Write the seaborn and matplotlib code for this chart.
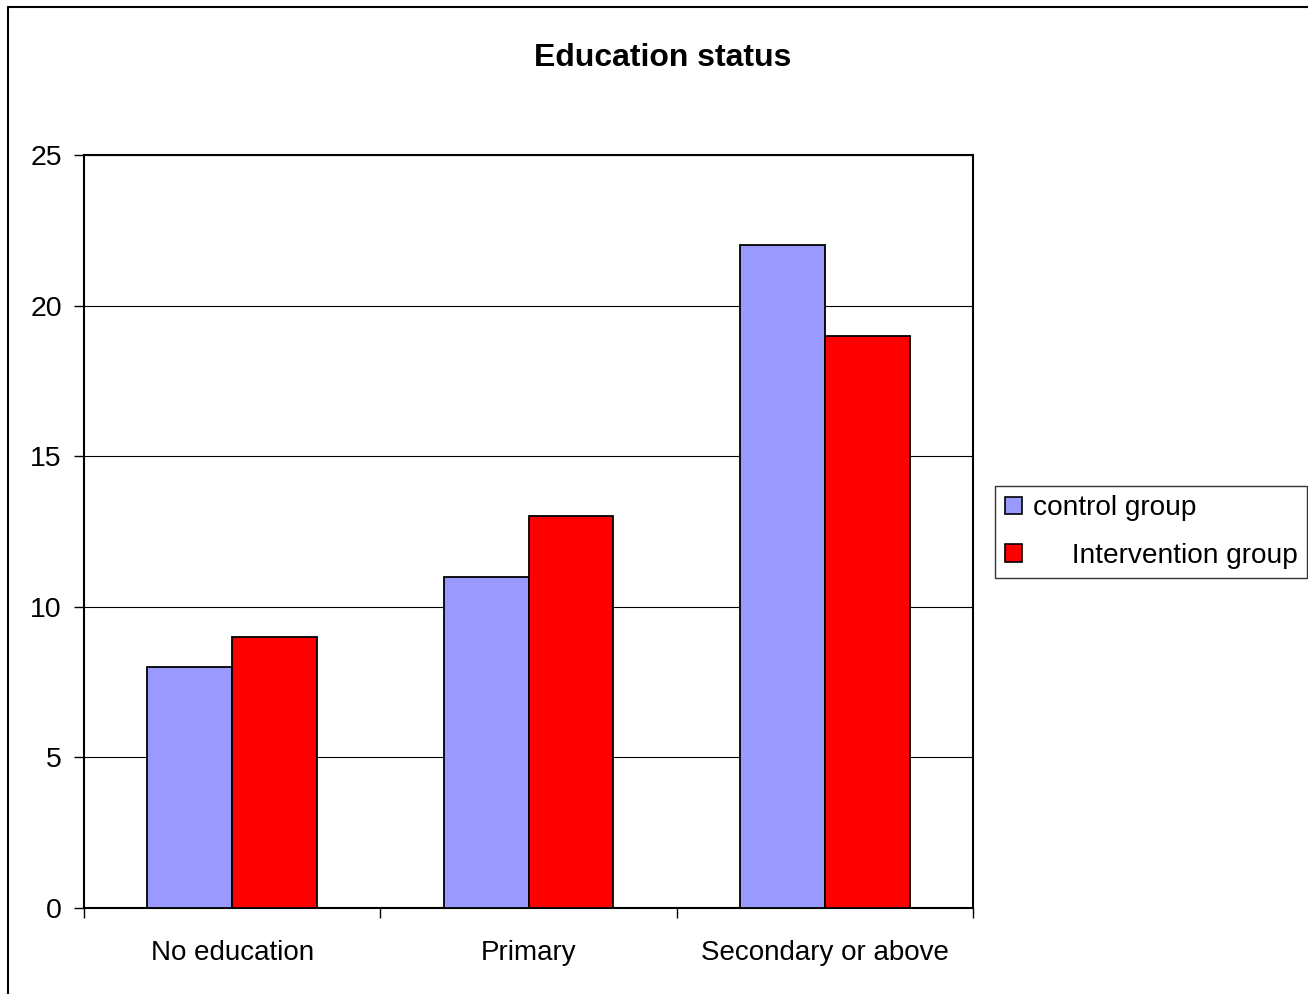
import matplotlib
matplotlib.use("Agg")
import matplotlib.pyplot as plt
import seaborn as sns
import pandas as pd
from matplotlib.lines import Line2D
from matplotlib.ticker import FixedLocator

categories = ["No education", "Primary", "Secondary or above"]
control_values = [8, 11, 22]
intervention_values = [9, 13, 19]
series_names = ["control group", "Intervention group"]
legend_labels = ["control group", "     Intervention group"]
y_ticks = [0, 5, 10, 15, 20, 25]

df = pd.DataFrame({
    "category": categories * 2,
    "value": control_values + intervention_values,
    "group": [series_names[0]] * 3 + [series_names[1]] * 3,
})

sns.set_theme(style="white")
plt.rcParams["font.family"] = ["Liberation Sans", "DejaVu Sans"]
plt.rcParams["text.color"] = "black"
plt.rcParams["xtick.color"] = "black"
plt.rcParams["ytick.color"] = "black"

W, H = 1308, 994
fig = plt.figure(figsize=(W / 100, H / 100), dpi=100)
ax = fig.add_axes([84 / W, 1 - 908 / H, (973 - 84) / W, (908 - 155) / H])

palette = {series_names[0]: "#9999FF", series_names[1]: "#FF0000"}
sns.barplot(data=df, x="category", y="value", hue="group", order=categories,
            hue_order=series_names, palette=palette, width=0.573,
            edgecolor="black", linewidth=1.3, saturation=1, ax=ax, legend=False,
            zorder=3)

ax.set_xlim(-0.5, 2.5)
ax.set_ylim(0, 25)
ax.set_yticks(y_ticks)
ax.set_yticklabels([str(t) for t in y_ticks], fontsize=20.5)
ax.yaxis.grid(True, color="black", linewidth=0.8, zorder=0)
ax.set_axisbelow(True)
ax.tick_params(axis="y", direction="out", length=7, width=1,
               left=True, pad=9, labelcolor="black")
for t in ax.yaxis.get_ticklines():
    t.set_color("#555555")

ax.xaxis.set_major_locator(FixedLocator([-0.5, 0.5, 1.5, 2.5]))
ax.set_xticklabels([])
ax.xaxis.set_minor_locator(FixedLocator([0, 1, 2]))
ax.set_xticklabels(categories, minor=True, fontsize=20)
ax.tick_params(axis="x", which="major", direction="out", length=7, width=1,
               bottom=True)
for t in ax.xaxis.get_ticklines():
    t.set_color("#555555")
ax.tick_params(axis="x", which="minor", length=0, pad=23, labelcolor="black")
ax.set_xlabel("")
ax.set_ylabel("")

for s in ax.spines.values():
    s.set_visible(True)
    s.set_color("black")
    s.set_linewidth(1.5)

fig.text(663 / W, 1 - 58 / H, "Education status", ha="center", va="center",
         fontsize=23, fontweight="bold", color="black")

handles = [plt.Rectangle((0, 0), 1, 1, facecolor=palette[n], edgecolor="black",
                         linewidth=1.2) for n in series_names]
leg = fig.legend(handles, legend_labels, loc="center left",
                 bbox_to_anchor=(995 / W, 1 - 532 / H), frameon=True,
                 fontsize=20.2, handlelength=0.6, handleheight=0.6,
                 handletextpad=0.4, borderpad=0.35, labelspacing=0.75,
                 fancybox=False, borderaxespad=0)
leg.get_frame().set_edgecolor("black")
leg.get_frame().set_linewidth(1.0)
for txt in leg.get_texts():
    txt.set_color("black")

fig.add_artist(Line2D([8 / W, 8 / W], [0, 1 - 7 / H], color="black", linewidth=1.5,
                      transform=fig.transFigure))
fig.add_artist(Line2D([8 / W, 1], [1 - 7 / H, 1 - 7 / H], color="black", linewidth=1.5,
                      transform=fig.transFigure))

fig.savefig("out.png", dpi=100, facecolor="white")
